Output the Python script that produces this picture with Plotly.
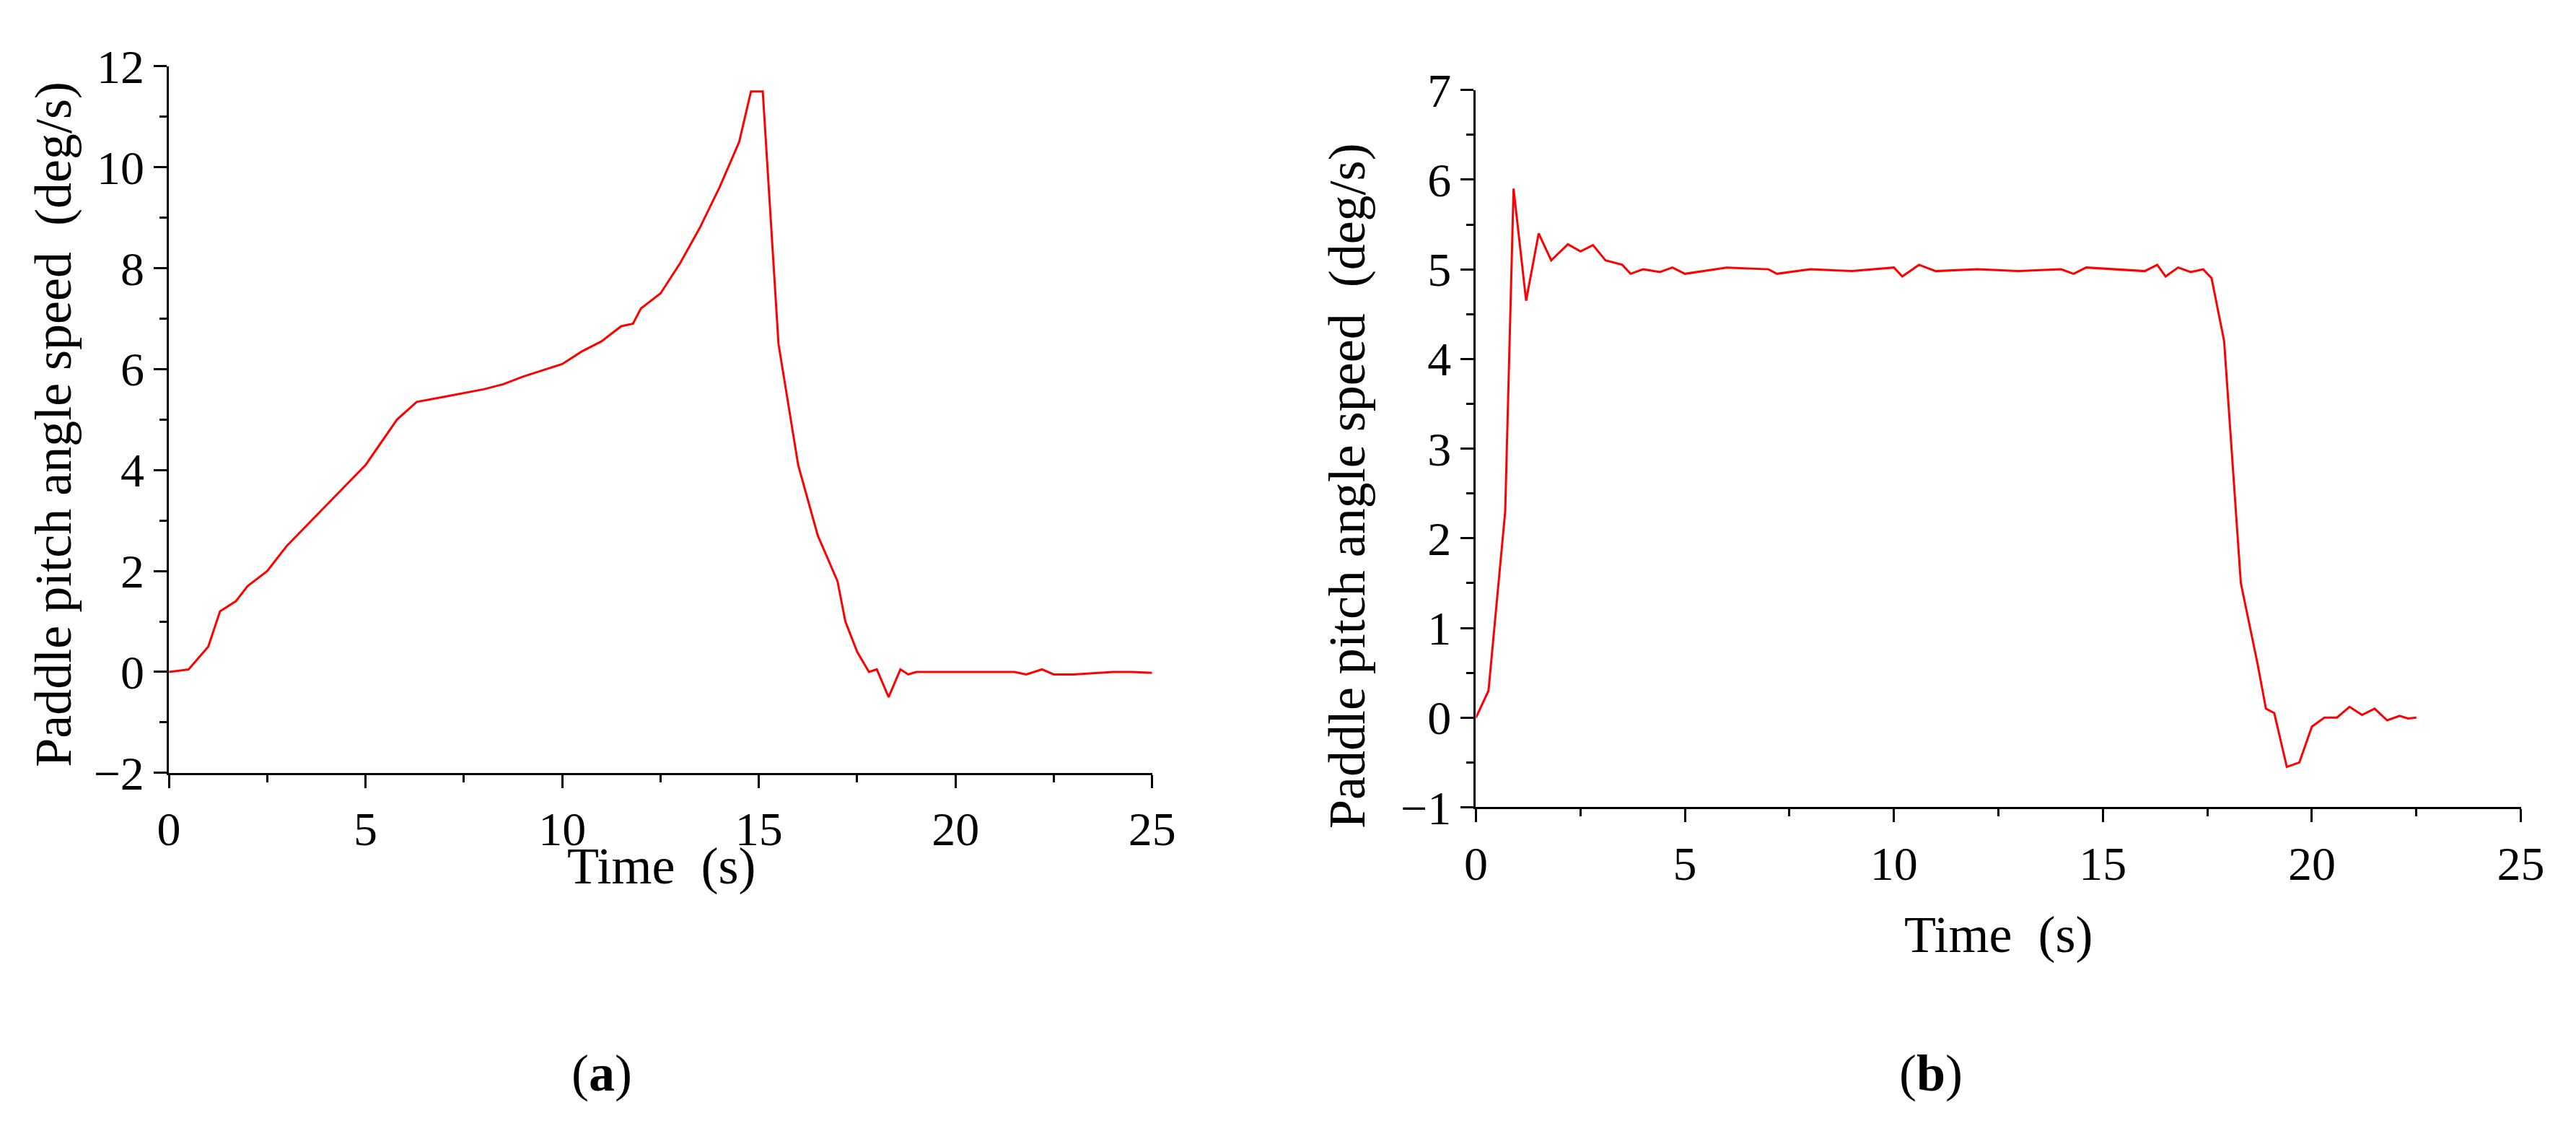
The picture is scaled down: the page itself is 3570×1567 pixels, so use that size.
import plotly.graph_objects as go

# (a) pitch angle speed vs time
t_a = [0, 0.5, 1, 1.3, 1.7, 2, 2.5, 3, 4, 5, 5.8, 6.3, 7, 8, 8.5, 9, 10, 10.5, 11, 11.5,
       11.8, 12, 12.5, 13, 13.5, 14, 14.5, 14.8, 15.1, 15.5, 16, 16.5, 17, 17.2, 17.5,
       17.8, 18, 18.3, 18.6, 18.8, 19, 20, 21, 21.5, 21.8, 22.2, 22.5, 23, 24, 24.5, 25]
v_a = [0, 0.05, 0.5, 1.2, 1.4, 1.7, 2.0, 2.5, 3.3, 4.1, 5.0, 5.35, 5.45, 5.6, 5.7, 5.85,
       6.1, 6.35, 6.55, 6.85, 6.9, 7.2, 7.5, 8.1, 8.8, 9.6, 10.5, 11.5, 11.5, 6.5, 4.1,
       2.7, 1.8, 1.0, 0.4, 0.0, 0.05, -0.5, 0.05, -0.05, 0.0, 0.0, 0.0, 0.0, -0.05, 0.05,
       -0.05, -0.05, 0.0, 0.0, -0.02]

# (b)
t_b = [0, 0.3, 0.7, 0.9, 1.2, 1.5, 1.8, 2.2, 2.5, 2.8, 3.1, 3.5, 3.7, 4, 4.4, 4.7, 5, 6,
       7, 7.2, 8, 9, 10, 10.2, 10.6, 11, 12, 13, 14, 14.3, 14.6, 16, 16.3, 16.5, 16.8,
       17.1, 17.4, 17.6, 17.9, 18.3, 18.7, 18.9, 19.1, 19.4, 19.7, 20, 20.3, 20.6, 20.9,
       21.2, 21.5, 21.8, 22.1, 22.3, 22.5]
v_b = [0, 0.3, 2.3, 5.9, 4.65, 5.4, 5.1, 5.28, 5.2, 5.27, 5.1, 5.05, 4.95, 5.0, 4.97,
       5.02, 4.95, 5.02, 5.0, 4.95, 5.0, 4.98, 5.02, 4.92, 5.05, 4.98, 5.0, 4.98, 5.0,
       4.95, 5.02, 4.98, 5.05, 4.92, 5.02, 4.97, 5.0, 4.9, 4.2, 1.5, 0.6, 0.1, 0.05,
       -0.55, -0.5, -0.1, 0.0, 0.0, 0.12, 0.03, 0.1, -0.03, 0.02, -0.01, 0.0]

W, H = 3570, 1567
font = 'Liberation Serif'

fig = go.Figure()
fig.add_trace(go.Scatter(x=t_a, y=v_a, mode='lines', line=dict(color='red', width=3),
                         xaxis='x', yaxis='y'))
fig.add_trace(go.Scatter(x=t_b, y=v_b, mode='lines', line=dict(color='red', width=3),
                         xaxis='x2', yaxis='y2'))

ax = dict(showline=True, linecolor='black', linewidth=3, showgrid=False, zeroline=False,
          ticks='outside', ticklen=18, tickwidth=3, tickcolor='black',
          tickfont=dict(family=font, size=66, color='black'))
mn = dict(ticks='outside', ticklen=10, tickwidth=3, tickcolor='black')

fig.update_layout(
    width=W, height=H, margin=dict(l=0, r=0, t=0, b=0),
    font=dict(family=font, color='black'),
    paper_bgcolor='white', plot_bgcolor='white', showlegend=False,
    xaxis=dict(ax, domain=[0.0594, 0.4465], range=[0, 25], dtick=5,
               minor=dict(mn, dtick=2.5), anchor='y'),
    yaxis=dict(ax, domain=[0.3127, 0.968], range=[-2, 12], dtick=2,
               minor=dict(mn, dtick=1), anchor='x'),
    xaxis2=dict(ax, domain=[0.574, 0.9854], range=[0, 25], dtick=5,
                minor=dict(mn, dtick=2.5), anchor='y2'),
    yaxis2=dict(ax, domain=[0.2808, 0.946], range=[-1, 7], dtick=1,
                minor=dict(mn, dtick=0.5), anchor='x2'),
)

tf = dict(family=font, size=72, color='black')
ann = [
    dict(x=50, y=570, text='Paddle pitch angle speed  (deg/s)', textangle=-90),
    dict(x=1868, y=660, text='Paddle pitch angle speed  (deg/s)', textangle=-90),
    dict(x=904, y=1212, text='Time  (s)'),
    dict(x=2783, y=1312, text='Time  (s)'),
    dict(x=820, y=1514, text='(<b>a</b>)'),
    dict(x=2689, y=1514, text='(<b>b</b>)'),
]
for a in ann:
    fig.add_annotation(x=a['x'] / W, y=1 - a['y'] / H, xref='paper', yref='paper',
                       text=a['text'], textangle=a.get('textangle', 0),
                       showarrow=False, font=tf, xanchor='center', yanchor='middle')

fig.write_html("out.html")
